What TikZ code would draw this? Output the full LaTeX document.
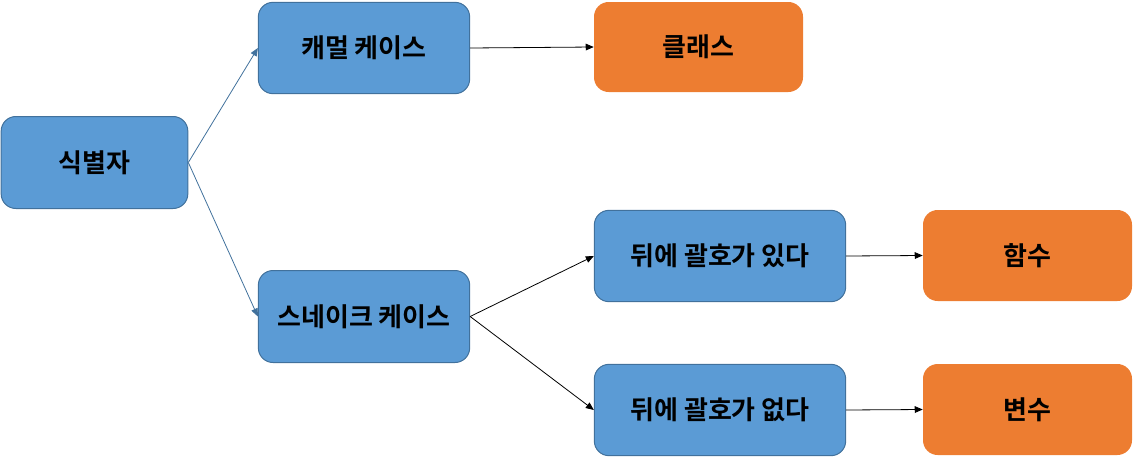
\documentclass[tikz,border=0pt]{standalone}
\usepackage{fontspec}
\setmainfont{Noto Sans CJK KR}[BoldFont={* Bold}]
\usetikzlibrary{arrows.meta}
\definecolor{bfill}{HTML}{5B9BD5}
\definecolor{bline}{HTML}{41719C}
\definecolor{ofill}{HTML}{ED7D31}
\begin{document}
\begin{tikzpicture}[x=0.75pt,y=-0.75pt,
  bbox/.style={fill=bfill,draw=bline,line width=0.75pt,rounded corners=11pt,inner sep=0pt,font=\fontsize{19.5}{23}\selectfont\bfseries,text=black},
  obox/.style={fill=ofill,rounded corners=11pt,inner sep=0pt,font=\fontsize{19.5}{23}\selectfont\bfseries,text=black},
  barrow/.style={draw=bline,line width=0.6pt,-{Triangle[length=6pt,width=5pt]}},
  karrow/.style={draw=black,line width=0.6pt,-{Triangle[length=6pt,width=5pt]}}]
\useasboundingbox (0,0) rectangle (1135,457);
\node[bbox,minimum width=140pt,minimum height=69pt] (id) at (94.5,162.5) {식별자};
\node[bbox,minimum width=158.5pt,minimum height=68.5pt] (camel) at (364,48) {캐멀 케이스};
\node[obox,minimum width=156.75pt,minimum height=67.5pt] (class) at (698.5,47) {클래스};
\node[bbox,minimum width=158.5pt,minimum height=69pt] (snake) at (364,316.5) {스네이크 케이스};
\node[bbox,minimum width=188.5pt,minimum height=68.5pt] (yes) at (720,256) {뒤에 괄호가 있다};
\node[obox,minimum width=156.75pt,minimum height=68.25pt] (func) at (1027.5,255.5) {함수};
\node[bbox,minimum width=188.5pt,minimum height=68.5pt] (no) at (720,410) {뒤에 괄호가 없다};
\node[obox,minimum width=156.75pt,minimum height=68.25pt] (var) at (1027.5,409.5) {변수};
\draw[barrow] (id.east) -- (camel.west);
\draw[barrow] (id.east) -- (snake.west);
\draw[karrow] (camel.east) -- (class.west);
\draw[karrow] (snake.east) -- (yes.west);
\draw[karrow] (snake.east) -- (no.west);
\draw[karrow] (yes.east) -- (func.west);
\draw[karrow] (no.east) -- (var.west);
\end{tikzpicture}
\end{document}
